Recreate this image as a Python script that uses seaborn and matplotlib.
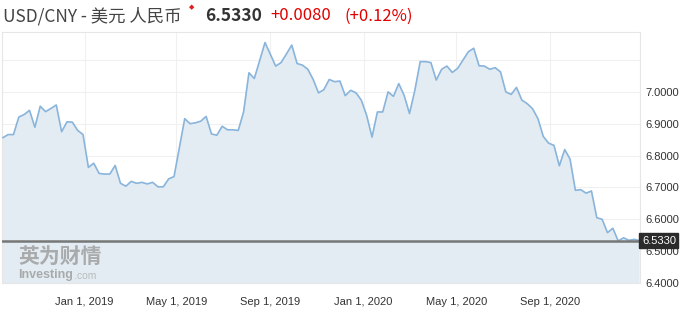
import numpy as np
import pandas as pd
import matplotlib
matplotlib.use("Agg")
import matplotlib.pyplot as plt
import matplotlib.dates as mdates
import seaborn as sns

# ---- data (weekly USD/CNY) ----
start_date = "2018-09-16"
values = [
    6.856, 6.866, 6.866, 6.921, 6.929, 6.942, 6.889, 6.955, 6.938, 6.948,
    6.959, 6.875, 6.906, 6.905, 6.879, 6.866, 6.763, 6.776, 6.744, 6.742,
    6.742, 6.769, 6.713, 6.704, 6.719, 6.713, 6.716, 6.711, 6.716, 6.702,
    6.702, 6.727, 6.734, 6.825, 6.916, 6.900, 6.903, 6.908, 6.923, 6.868,
    6.864, 6.892, 6.881, 6.881, 6.879, 6.937, 7.060, 7.042, 7.098, 7.155,
    7.118, 7.081, 7.092, 7.119, 7.147, 7.089, 7.084, 7.071, 7.039, 6.997,
    7.007, 7.039, 7.032, 7.034, 6.988, 7.005, 6.997, 6.974, 6.926, 6.858,
    6.937, 6.937, 7.000, 6.986, 7.026, 6.989, 6.932, 7.005, 7.095, 7.095,
    7.092, 7.037, 7.071, 7.081, 7.061, 7.074, 7.100, 7.126, 7.137, 7.082,
    7.081, 7.071, 7.076, 7.063, 7.000, 6.992, 7.014, 6.974, 6.963, 6.947,
    6.916, 6.860, 6.839, 6.832, 6.768, 6.819, 6.789, 6.691, 6.693, 6.682,
    6.689, 6.605, 6.600, 6.558, 6.572, 6.532, 6.542, 6.534, 6.537, 6.533,
]
last_price = 6.5330
change = "+0.0080"
change_pct = "(+0.12%)"
y_ticks = [6.4, 6.5, 6.6, 6.7, 6.8, 6.9, 7.0, 7.1]
y_tick_labels = ["6.4000", "6.5000", "6.6000", "6.7000", "6.8000", "6.9000", "7.0000", ""]
x_ticks = ["2019-01-01", "2019-05-01", "2019-09-01", "2020-01-01", "2020-05-01", "2020-09-01"]
x_tick_labels = ["Jan 1, 2019", "May 1, 2019", "Sep 1, 2019", "Jan 1, 2020", "May 1, 2020", "Sep 1, 2020"]

dates = pd.date_range(start_date, periods=len(values), freq="7D")
df = pd.DataFrame({"date": dates, "value": values})

sns.set_style("white")
plt.rcParams["font.family"] = ["Liberation Sans", "DejaVu Sans"]

W, H = 692, 320
fig = plt.figure(figsize=(W / 100, H / 100), dpi=100)
ax = fig.add_axes([2 / W, (H - 283) / H, (640 - 2) / W, (283 - 32) / H])

line_c = "#89b4dc"
fill_c = "#e3ecf2"
ax.fill_between(df["date"], df["value"], 6.0, color=fill_c, lw=0, zorder=1)
sns.lineplot(data=df, x="date", y="value", ax=ax, color=line_c, lw=1.2, zorder=3)

ax.set_xlim(dates[0] - pd.Timedelta(days=1), dates[-1] + pd.Timedelta(days=0.5))
ax.set_ylim(6.4, 7.188)

ax.set_yticks(y_ticks)
ax.set_yticklabels(y_tick_labels)
ax.yaxis.tick_right()
ax.tick_params(axis="y", length=0, pad=4, labelsize=8, labelcolor="#333333")
ax.set_xticks(pd.to_datetime(x_ticks))
ax.set_xticklabels(x_tick_labels)
ax.tick_params(axis="x", length=0, pad=10, labelsize=8, labelcolor="#333333")
ax.set_xlabel("")
ax.set_ylabel("")
ax.grid(True, color="#f0f0f0", lw=0.8, zorder=0)
ax.set_axisbelow(True)
for s in ax.spines.values():
    s.set_color("#e6e6e6")
    s.set_linewidth(0.8)

# current price line and label box
ax.axhline(last_price, color="#777777", lw=1.8, zorder=4)
ax.text(1.003, last_price, f"{last_price:.4f}", transform=ax.get_yaxis_transform(),
        ha="left", va="center", fontsize=8, color="white", zorder=6,
        bbox=dict(boxstyle="square,pad=0.22", fc="#2b2b2b", ec="#2b2b2b"))

# watermark
cjk = ["Noto Sans CJK SC", "DejaVu Sans"]
ax.text(16 / 638, (283 - 256) / 251, "英为财情", transform=ax.transAxes,
        fontsize=15, fontweight="bold", color="#9a9a9a", alpha=0.8,
        family=cjk, va="center", ha="left", zorder=5)
inv = ax.text(16 / 638, (283 - 275) / 251, "Investing", transform=ax.transAxes,
              fontsize=9, fontweight="bold", color="#9a9a9a", alpha=0.8,
              va="center", ha="left", zorder=5)
fig.canvas.draw()
bb = inv.get_window_extent()
x_end = ax.transAxes.inverted().transform((bb.x1, bb.y0))[0]
ax.text(x_end + 1 / 638, (283 - 276) / 251, ".com", transform=ax.transAxes,
        fontsize=7.5, color="#b0b0b0", alpha=0.8, va="center", ha="left", zorder=5)

# header
fig.text(3 / W, 1 - 16 / H, "USD/CNY - 美元 人民币", fontsize=12.5, color="#444444",
         family=cjk, va="center", ha="left")
fig.text(192 / W, 1 - 7 / H, "◆", fontsize=5, color="#e02020", va="center", ha="center",
         family=["DejaVu Sans"])
fig.text(205 / W, 1 - 16 / H, f"{last_price:.4f}", fontsize=12.5, color="#333333",
         fontweight="bold", family=cjk, va="center", ha="left")
fig.text(270 / W, 1 - 16 / H, change, fontsize=12, color="#e00000", family=cjk,
         va="center", ha="left")
fig.text(345 / W, 1 - 16 / H, change_pct, fontsize=12, color="#e00000", family=cjk,
         va="center", ha="left")

fig.savefig("out.png", dpi=100, facecolor="white")
